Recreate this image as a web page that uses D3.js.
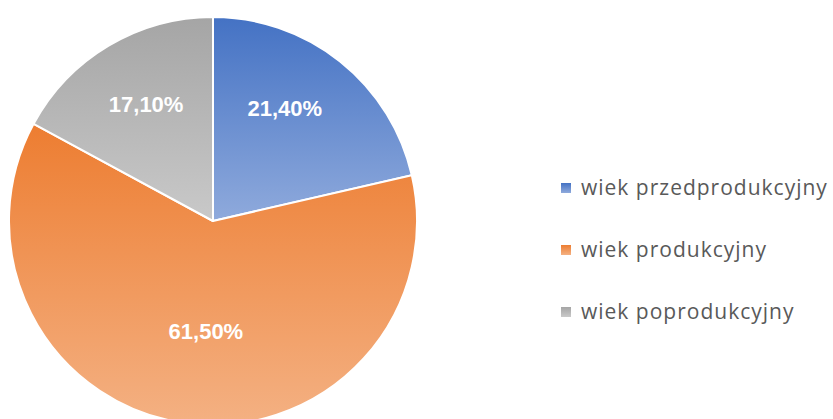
<!DOCTYPE html>
<html>
<head>
<meta charset="utf-8">
<script src="https://cdn.jsdelivr.net/npm/d3@7"></script>
<style>
    body { margin: 0; background: #fff; }
    .slice-label { font-family: "Liberation Sans", Arial, sans-serif; font-weight: bold; font-size: 22px; fill: #fff; }
    .legend-text { font-family: "Open Sans", "Liberation Sans", sans-serif; font-size: 21px; letter-spacing: 1px; fill: #595959; }
</style>
</head>
<body>
<div id="chart"></div>
<script>
// Age groups and their share of the population (%)
const categories = ["wiek przedprodukcyjny", "wiek produkcyjny", "wiek poprodukcyjny"];
const values = [21.4, 61.5, 17.1];
const labels = ["21,40%", "61,50%", "17,10%"];
// gradient stops, top colour / bottom colour
const topColors = ["#4472C4", "#ED7D31", "#A5A5A5"];
const bottomColors = ["#8FAADC", "#F4B183", "#C9C9C9"];

function drawPie() {
    const width = 833;
    const height = 419;
    const cx = 213, cy = 221, radius = 204;

    // Excel "best fit" moves the labels a bit off the centroid
    const labelNudge = [[-12, -8], [11, -23], [2, -1]];

    const svg = d3.select("#chart")
        .append("svg")
        .attr("width", width)
        .attr("height", height);

    // Vertical gradients, one per slice
    const defs = svg.append("defs");
    categories.forEach((c, i) => {
        const g = defs.append("linearGradient")
            .attr("id", "grad" + i)
            .attr("x1", 0).attr("y1", 0)
            .attr("x2", 0).attr("y2", 1);
        g.append("stop").attr("offset", "0%").attr("stop-color", topColors[i]);
        g.append("stop").attr("offset", "100%").attr("stop-color", bottomColors[i]);
    });

    const data = categories.map((c, i) => ({ name: c, value: values[i], label: labels[i], idx: i }));

    const pie = d3.pie()
        .sort(null)
        .value(d => d.value);

    const arc = d3.arc()
        .innerRadius(0)
        .outerRadius(radius);

    const labelArc = d3.arc()
        .innerRadius(radius * 0.66)
        .outerRadius(radius * 0.66);

    const g = svg.append("g")
        .attr("transform", `translate(${cx}, ${cy})`);

    const arcs = pie(data);

    g.selectAll("path")
        .data(arcs)
        .enter()
        .append("path")
        .attr("d", arc)
        .attr("fill", d => `url(#grad${d.data.idx})`)
        .attr("stroke", "#fff")
        .attr("stroke-width", 2)
        .attr("stroke-linejoin", "round");

    g.selectAll("text")
        .data(arcs)
        .enter()
        .append("text")
        .attr("class", "slice-label")
        .attr("x", d => labelArc.centroid(d)[0] + labelNudge[d.data.idx][0])
        .attr("y", d => labelArc.centroid(d)[1] + labelNudge[d.data.idx][1])
        .attr("dy", "0.36em")
        .attr("text-anchor", "middle")
        .text(d => d.data.label);

    // Legend
    const legendY = d3.scalePoint()
        .domain(categories)
        .range([188, 312]);

    const legend = svg.append("g");
    const items = legend.selectAll("g")
        .data(data)
        .enter()
        .append("g")
        .attr("transform", d => `translate(561, ${legendY(d.name)})`);

    items.append("rect")
        .attr("x", 0)
        .attr("y", -5)
        .attr("width", 10)
        .attr("height", 10)
        .attr("fill", d => `url(#grad${d.idx})`);

    items.append("text")
        .attr("class", "legend-text")
        .attr("x", 20)
        .attr("y", 7)
        .text(d => d.name);
}

drawPie();
</script>
</body>
</html>
